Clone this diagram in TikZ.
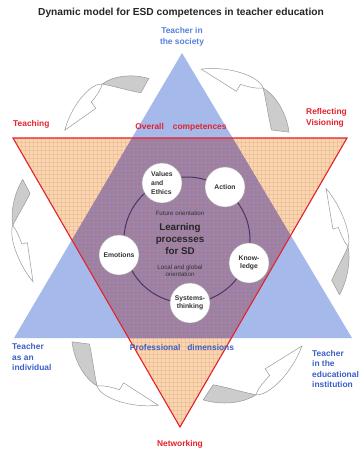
\documentclass[tikz,border=0pt]{standalone}
\usepackage{fontspec}
\setmainfont{Liberation Sans}
\usepackage{tikz}

\definecolor{esdblue}{HTML}{A5B9EB}
\definecolor{esdorange}{HTML}{F9D5B0}
\definecolor{esdpurple}{HTML}{9880AA}
\definecolor{esdgrid}{HTML}{D9906A}
\definecolor{esdred}{HTML}{E3222B}
\definecolor{labelblue}{HTML}{3B5FC7}
\definecolor{societyblue}{HTML}{5581DD}
\definecolor{ringpurple}{HTML}{4B3563}

% twisted ribbon arrow: tail point, direction of the chord, length, bulge
\newcommand{\cyclearrow}[4]{%
  \begin{scope}[shift={(#1)}, rotate=#2, xscale=#3, yscale=#4, y=1pt]
    \filldraw[arrowback] (-7,-4) .. controls (6,-17) and (25,-25) .. (40,-23)
      .. controls (29,-14) and (17,-2) .. (8,5) -- cycle;
    \filldraw[arrowfront] (40,-23) .. controls (50,-30) and (80,-20) .. (100,0)
      -- (59,-4) -- (60,-12) .. controls (52,-15) and (45,-18) .. (40,-23) -- cycle;
  \end{scope}}

\begin{document}
\begin{tikzpicture}[x=1pt, y=-1pt,
    competence/.style={circle, draw=gray!70, fill=white, minimum size=40pt,
      inner sep=0pt, align=center, text=black!80,
      font=\bfseries\fontsize{6.8}{8.6}\selectfont},
    redlabel/.style={text=esdred, inner sep=0pt,
      font=\bfseries\fontsize{8.4}{10.5}\selectfont},
    bluelabel/.style={text=labelblue, inner sep=0pt,
      font=\bfseries\fontsize{8.4}{10.5}\selectfont},
    tinytext/.style={text=black!80, inner sep=0pt, align=center,
      font=\fontsize{6.2}{7.2}\selectfont},
    gridline/.style={esdgrid, opacity=0.22, line width=0.25pt},
    arrowback/.style={fill=gray!40, draw=gray!80, line width=0.5pt},
    arrowfront/.style={fill=white, draw=gray!80, line width=0.5pt}]

  \useasboundingbox (0,0) rectangle (361,451);
  \fill[white] (0,0) rectangle (361,451);

  \node[font=\bfseries\fontsize{10.2}{12}\selectfont, text=black!85] (title)
    at (181,13) {Dynamic model for ESD competences in teacher education};

  % the two triangles
  \coordinate (top) at (182,53);
  \coordinate (bl) at (14,338);
  \coordinate (br) at (352,338);
  \coordinate (tl) at (13,138);
  \coordinate (tr) at (347,138);
  \coordinate (bot) at (180,427);

  \fill[esdblue] (top) -- (bl) -- (br) -- cycle;
  \fill[esdorange] (tl) -- (tr) -- (bot) -- cycle;
  \begin{scope}
    \clip (top) -- (bl) -- (br) -- cycle;
    \fill[esdpurple] (tl) -- (tr) -- (bot) -- cycle;
  \end{scope}
  \begin{scope}
    \clip (tl) -- (tr) -- (bot) -- cycle;
    \foreach \gx in {13,17,...,349}
      \draw[gridline] (\gx,136) -- (\gx,430);
    \foreach \gy in {138,142,...,430}
      \draw[gridline] (10,\gy) -- (350,\gy);
  \end{scope}
  \draw[esdred, line width=1.1pt] (tl) -- (tr) -- (bot) -- cycle;

  % learning processes in the middle
  \node[draw=ringpurple, line width=1pt, circle, minimum size=126pt] (ring)
    at (187,240) {};
  \node[competence, align=left] (values) at (162,183) {Values\\and\\Ethics};
  \node[competence] (action) at (225,187) {Action};
  \node[competence] (knowledge) at (249,263) {Know-\\ledge};
  \node[competence] (systems) at (190,303) {Systems-\\thinking};
  \node[competence] (emotions) at (119,255) {Emotions};

  \node[tinytext] (future) at (180,213) {Future orientation};
  \node[text=black!85, align=center, inner sep=0pt,
    font=\bfseries\fontsize{9.8}{11.8}\selectfont] (learning)
    at (180,239) {Learning\\processes\\for SD};
  \node[tinytext] (local) at (180,271) {Local and global\\orientation};

  % labels round the star
  \node[bluelabel, text=societyblue, align=center] (society) at (182,37)
    {Teacher in\\the society};
  \node[redlabel, anchor=west] (teaching) at (13,124) {Teaching};
  \node[redlabel, anchor=west, align=left] (reflecting) at (306,118)
    {Reflecting\\Visioning};
  \node[redlabel] (overall) at (181,127) {Overall\hspace{9pt}competences};
  \node[bluelabel] (professional) at (182,347)
    {Professional\hspace{7pt}dimensions};
  \node[bluelabel, anchor=west, align=left] (individual) at (12,357)
    {Teacher\\as an\\individual};
  \node[bluelabel, anchor=west, align=left] (institution) at (312,369)
    {Teacher\\in the\\educational\\institution};
  \node[redlabel] (networking) at (180,444) {Networking};

  % arrows going round
  \cyclearrow{145,85}{-150.6}{0.92}{0.95}
  \cyclearrow{281,131}{142.2}{1.01}{1.0}
  \cyclearrow{26,186}{-85.8}{0.96}{0.7}
  \cyclearrow{80,343}{-38.5}{1.0}{1.0}
  \cyclearrow{208,393}{26.6}{1.05}{1.0}
  \cyclearrow{336,288}{95.7}{1.0}{0.7}
\end{tikzpicture}
\end{document}
